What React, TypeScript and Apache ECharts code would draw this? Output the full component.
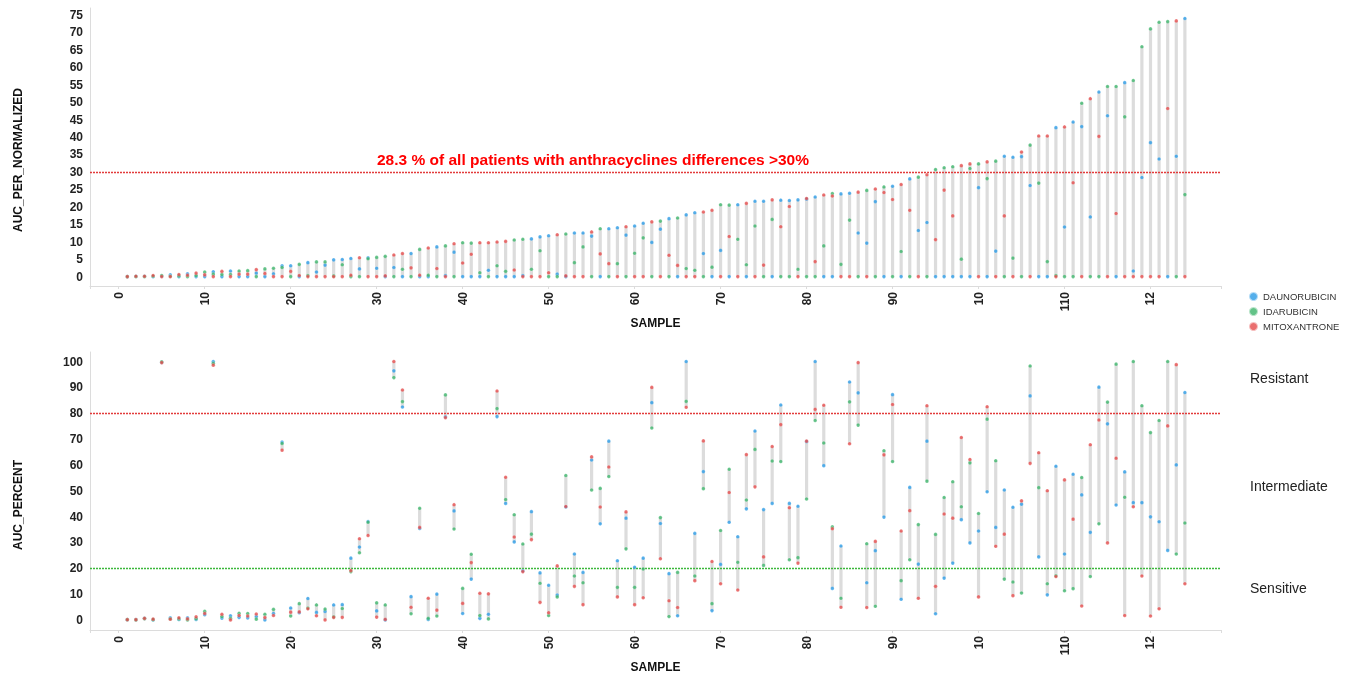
import React, { useEffect, useRef } from "react";
import * as echarts from "echarts";

// AUC_PERCENT per sample (samples 1..124, ordered by spread between drugs)
const DAUNORUBICIN = [
  0.1, 0.1, 0.6, 0.0, 99.7, 0.8, 0.2, 0.8, 0.2, 2.0,
  100, 0.7, 1.6, 1.0, 0.8, 1.3, 0.0, 2.5, 68.8, 4.6,
  2.8, 8.3, 2.9, 3.3, 5.8, 5.9, 23.9, 28.2, 38.1, 3.5,
  0.0, 96.4, 82.4, 9.0, 35.4, 0.2, 10.0, 78.6, 42.2, 2.5,
  15.8, 0.6, 2.2, 78.7, 45.1, 30.2, 19.0, 41.9, 18.2, 13.4,
  9.6, 43.7, 25.5, 18.4, 61.9, 37.2, 69.2, 22.9, 39.4, 20.4,
  23.9, 84.1, 37.3, 17.9, 1.6, 100, 33.5, 57.4, 3.6, 21.5,
  37.8, 32.2, 43.0, 73.1, 42.7, 45.1, 83.2, 45.1, 44.0, 69.0,
  100, 59.7, 12.2, 28.6, 92.1, 87.9, 14.4, 26.8, 39.8, 87.2,
  8.0, 51.3, 21.6, 69.2, 2.4, 16.2, 22.0, 38.8, 29.8, 34.4,
  49.6, 35.8, 50.3, 43.6, 44.8, 86.7, 24.4, 9.7, 59.5, 25.5,
  56.4, 48.4, 33.9, 90.1, 75.9, 44.5, 57.3, 45.4, 45.4, 39.9,
  38.0, 26.9, 60.0, 88.0,
];
const IDARUBICIN = [
  0.1, 0.0, 0.5, 0.1, 99.9, 0.4, 0.4, 0.0, 0.5, 3.3,
  99.3, 1.3, 0.6, 2.6, 2.5, 0.3, 2.2, 4.1, 68.3, 1.5,
  6.3, 4.6, 5.8, 4.2, 1.2, 4.4, 18.7, 26.0, 37.8, 6.6,
  5.8, 93.8, 84.5, 2.4, 43.2, 0.6, 1.5, 87.1, 35.2, 12.2,
  25.4, 1.7, 0.4, 81.8, 46.6, 40.7, 29.4, 33.2, 14.2, 1.7,
  8.9, 55.9, 17.0, 14.4, 50.3, 50.9, 55.5, 12.6, 27.5, 12.6,
  19.7, 74.3, 39.6, 1.3, 18.4, 84.6, 17.0, 50.8, 6.3, 34.6,
  58.3, 22.3, 46.4, 66.0, 21.1, 61.5, 61.3, 23.3, 24.1, 46.8,
  77.2, 68.5, 36.0, 8.4, 84.4, 75.4, 29.5, 5.3, 65.5, 61.3,
  15.2, 23.3, 36.9, 53.7, 33.1, 47.4, 53.5, 43.8, 60.8, 41.2,
  77.7, 61.6, 15.8, 14.7, 10.4, 98.3, 51.2, 14.0, 17.1, 11.3,
  12.1, 55.1, 16.8, 37.2, 84.3, 99.0, 47.5, 100, 82.9, 72.5,
  77.2, 100, 25.5, 37.5,
];
const MITOXANTRONE = [
  0.1, 0.1, 0.6, 0.3, 99.6, 0.3, 0.8, 0.4, 1.2, 2.5,
  98.6, 2.2, 0.0, 1.7, 1.5, 2.3, 0.9, 1.7, 65.7, 3.0,
  3.1, 4.3, 1.6, 0.0, 1.0, 1.0, 19.1, 31.4, 32.7, 1.1,
  0.2, 100, 89.0, 4.9, 35.8, 8.4, 3.8, 78.3, 44.6, 6.4,
  22.2, 10.3, 10.1, 88.6, 55.2, 32.1, 18.7, 31.1, 6.8, 2.8,
  20.9, 43.9, 13.0, 5.9, 63.1, 43.7, 59.2, 8.9, 41.8, 5.9,
  8.6, 90.0, 23.7, 7.4, 4.8, 82.3, 15.2, 69.3, 22.6, 14.0,
  49.3, 11.6, 64.0, 51.5, 24.4, 67.1, 75.6, 43.4, 22.0, 69.2,
  81.5, 83.1, 35.3, 4.9, 68.2, 99.6, 4.8, 30.4, 63.9, 83.4,
  34.4, 42.3, 8.4, 82.9, 13.0, 41.0, 39.4, 70.6, 62.1, 8.9,
  82.5, 28.5, 33.2, 9.4, 46.1, 60.6, 64.7, 50.0, 16.8, 54.2,
  39.0, 5.4, 67.8, 77.4, 29.8, 62.6, 1.7, 43.8, 17.0, 1.5,
  4.3, 75.1, 98.8, 14.0,
];
const SAMPLES = DAUNORUBICIN.map((_, i) => i + 1);

const DRUGS = ["DAUNORUBICIN", "IDARUBICIN", "MITOXANTRONE"];
const DRUG_VALUES = [DAUNORUBICIN, IDARUBICIN, MITOXANTRONE];
const COLORS = ["#2b9be6", "#3cb46a", "#e54b4b"];

const ANNOTATION = "28.3 % of all patients with anthracyclines differences >30%";
const ZONES = ["Resistant", "Intermediate", "Sensitive"];
const DIFF_THRESHOLD = 30;
const RESISTANT_CUT = 80;
const SENSITIVE_CUT = 20;

const FONT = "'Liberation Sans', Arial, sans-serif";

export default function App() {
  const ref = useRef<HTMLDivElement>(null);

  useEffect(() => {
    if (!ref.current) return;
    const chart = echarts.init(ref.current, null, { renderer: "svg" });

    const mins = SAMPLES.map((_, i) =>
      Math.min(DAUNORUBICIN[i], IDARUBICIN[i], MITOXANTRONE[i])
    );
    const maxs = SAMPLES.map((_, i) =>
      Math.max(DAUNORUBICIN[i], IDARUBICIN[i], MITOXANTRONE[i])
    );

    const xLabelFmt = (v: number) => {
      if (Math.abs(v - Math.round(v)) > 1e-6 || Math.round(v) % 10 !== 0) return "";
      if (v === 100) return "10";
      if (v === 120) return "12";
      return String(v);
    };
    const yFmt = (step: number) => (v: number) =>
      Math.abs(v - Math.round(v)) > 1e-6 || Math.round(v) % step !== 0 ? "" : String(v);

    const axisLineStyle = { onZero: false, lineStyle: { color: "#dcdcdc", width: 1 } };
    const labelStyle = { fontWeight: "bold" as const, fontSize: 12, color: "#222", fontFamily: FONT };
    const nameStyle = { fontWeight: "bold" as const, fontSize: 12, color: "#111", fontFamily: FONT };

    const makeX = (gi: number) => ({
      gridIndex: gi,
      type: "value",
      min: -3.34,
      max: 128.2,
      minInterval: 10,
      maxInterval: 10,
      name: "SAMPLE",
      nameLocation: "middle",
      nameGap: 31,
      nameTextStyle: nameStyle,
      axisLine: { show: true, ...axisLineStyle },
      axisTick: { show: true, length: 3, lineStyle: { color: "#dcdcdc" } },
      splitLine: { show: false },
      axisLabel: { ...labelStyle, rotate: 90, margin: 6, formatter: xLabelFmt },
    });

    const rangeSeries = (gi: number, normalized: boolean) => ({
      type: "custom",
      xAxisIndex: gi,
      yAxisIndex: gi,
      silent: true,
      z: 1,
      encode: { x: 0, y: [1, 2] },
      data: SAMPLES.map((s, i) =>
        normalized ? [s, 0, maxs[i] - mins[i]] : [s, mins[i], maxs[i]]
      ),
      renderItem: (_p: any, api: any) => {
        const x = api.value(0);
        const top = api.coord([x, api.value(2)]);
        const bot = api.coord([x, api.value(1)]);
        return {
          type: "rect",
          shape: { x: top[0] - 1.6, y: top[1], width: 3.2, height: Math.max(bot[1] - top[1], 0.5) },
          style: { fill: "#dcdcdc" },
        };
      },
    });

    const dotSeries = (gi: number, normalized: boolean) =>
      DRUGS.map((name, d) => ({
        type: "scatter",
        name,
        xAxisIndex: gi,
        yAxisIndex: gi,
        symbol: "circle",
        symbolSize: 3.6,
        z: 3,
        itemStyle: { color: COLORS[d], borderColor: "rgba(255,255,255,0.7)", borderWidth: 0.4 },
        data: SAMPLES.map((s, i) => [s, normalized ? DRUG_VALUES[d][i] - mins[i] : DRUG_VALUES[d][i]]),
      }));

    const markLineBase = {
      silent: true,
      symbol: "none",
      label: { show: false },
      z: 2,
    };

    const topDots = dotSeries(0, true);
    (topDots[0] as any).markLine = {
      ...markLineBase,
      lineStyle: { color: "#e23b3b", width: 1.3, type: [2, 1] },
      data: [{ yAxis: DIFF_THRESHOLD }],
    };
    const botDots = dotSeries(1, false);
    (botDots[0] as any).markLine = {
      ...markLineBase,
      data: [
        { yAxis: RESISTANT_CUT, lineStyle: { color: "#e23b3b", width: 1.3, type: [2, 1] } },
        { yAxis: SENSITIVE_CUT, lineStyle: { color: "#3cb83c", width: 1.3, type: [2, 1] } },
      ],
    };

    chart.setOption({
      animation: false,
      textStyle: { fontFamily: FONT },
      grid: [
        { left: 90, top: 8, width: 1131, height: 278 },
        { left: 90, top: 352, width: 1131, height: 278 },
      ],
      xAxis: [makeX(0), makeX(1)],
      yAxis: [
        {
          gridIndex: 0,
          type: "value",
          min: -2.7,
          max: 77,
          minInterval: 5,
          maxInterval: 5,
          name: "AUC_PER_NORMALIZED",
          nameLocation: "middle",
          nameGap: 66,
          nameTextStyle: { ...nameStyle, padding: [0, 26, 0, 0] },
          axisLine: { show: true, ...axisLineStyle },
          axisTick: { show: false },
          splitLine: { show: false },
          axisLabel: { ...labelStyle, margin: 7, formatter: yFmt(5) },
        },
        {
          gridIndex: 1,
          type: "value",
          min: -3.9,
          max: 103.7,
          minInterval: 10,
          maxInterval: 10,
          name: "AUC_PERCENT",
          nameLocation: "middle",
          nameGap: 66,
          nameTextStyle: { ...nameStyle, padding: [0, 28, 0, 0] },
          axisLine: { show: true, ...axisLineStyle },
          axisTick: { show: false },
          splitLine: { show: false },
          axisLabel: { ...labelStyle, margin: 7, formatter: yFmt(10) },
        },
      ],
      legend: {
        data: DRUGS,
        orient: "vertical",
        left: 1248,
        top: 291,
        padding: 0,
        itemGap: 4,
        itemWidth: 9,
        itemHeight: 9,
        icon: "circle",
        textStyle: { fontSize: 9.5, color: "#333", fontFamily: FONT },
      },
      graphic: [
        {
          type: "text",
          left: 377,
          top: 151,
          style: { text: ANNOTATION, fontSize: 15.5, fontWeight: "bold", fill: "#ff0000", fontFamily: FONT },
        },
        {
          type: "text",
          left: 1250,
          top: 371,
          style: { text: ZONES[0], fontSize: 14, fill: "#222", fontFamily: FONT },
        },
        {
          type: "text",
          left: 1250,
          top: 479,
          style: { text: ZONES[1], fontSize: 14, fill: "#222", fontFamily: FONT },
        },
        {
          type: "text",
          left: 1250,
          top: 581,
          style: { text: ZONES[2], fontSize: 14, fill: "#222", fontFamily: FONT },
        },
      ],
      series: [rangeSeries(0, true), rangeSeries(1, false), ...topDots, ...botDots],
    });

    return () => chart.dispose();
  }, []);

  return (
    <div
      ref={ref}
      style={{ position: "fixed", left: 0, top: 0, width: 1352, height: 675 }}
    />
  );
}
